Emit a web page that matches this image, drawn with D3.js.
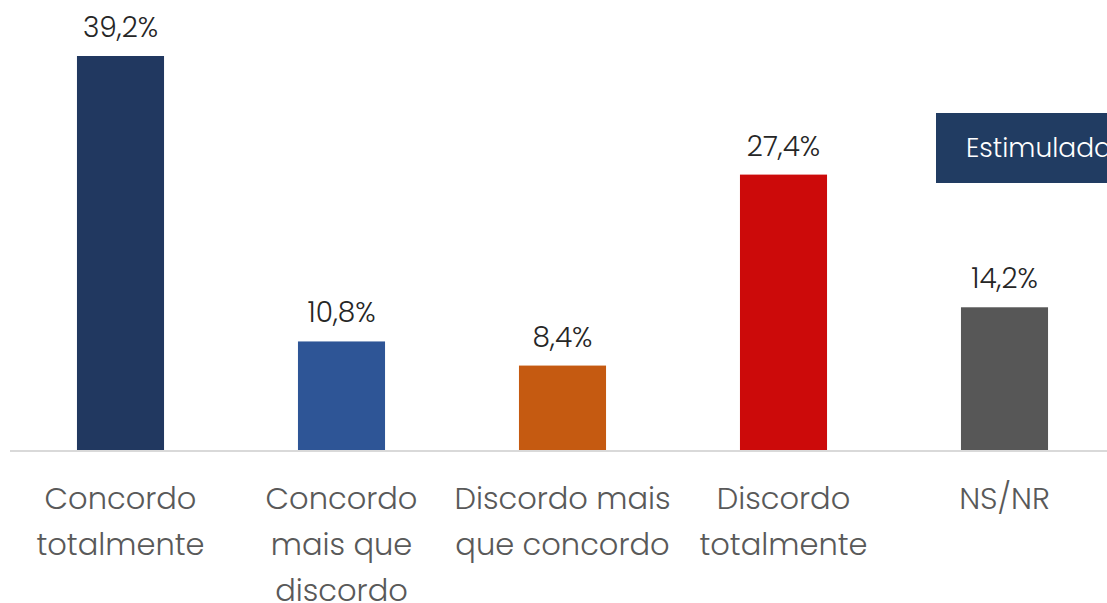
<!DOCTYPE html>
<html>
<head>
<meta charset="utf-8">
<script src="https://cdn.jsdelivr.net/npm/d3@7"></script>
<style>
  html, body { margin: 0; padding: 0; background: #ffffff; }
  svg { display: block; }
  text { font-family: Poppins, "Open Sans", Lato, sans-serif; font-weight: 300; }
</style>
</head>
<body>
<svg id="chart" width="1107" height="603"></svg>
<script>
// Response categories (each split into display lines)
const categories = [
  ["Concordo", "totalmente"],
  ["Concordo", "mais que", "discordo"],
  ["Discordo mais", "que concordo"],
  ["Discordo", "totalmente"],
  ["NS/NR"]
];
// Share of respondents, %
const values = [39.2, 10.8, 8.4, 27.4, 14.2];
const colors = ["#213860", "#2e5596", "#c55a11", "#cc0a0a", "#575757"];
const tagLabel = "Estimulada";

const W = 1107, H = 603;
const svg = d3.select("#chart");

const x = d3.scaleBand()
  .domain(d3.range(values.length))
  .range([10, 1115])
  .paddingInner(0.606)
  .paddingOuter(0.303);

const y = d3.scaleLinear().domain([0, 39.2]).range([450, 56]);

// Bars
svg.append("g").selectAll("rect")
  .data(values)
  .join("rect")
  .attr("x", (d, i) => x(i))
  .attr("width", x.bandwidth())
  .attr("y", d => y(d))
  .attr("height", d => y(0) - y(d))
  .attr("fill", (d, i) => colors[i]);

// Value labels
svg.append("g").selectAll("text")
  .data(values)
  .join("text")
  .attr("x", (d, i) => x(i) + x.bandwidth() / 2)
  .attr("y", d => y(d) - 19)
  .attr("text-anchor", "middle")
  .attr("font-size", 28)
  .attr("fill", "#262626")
  .text(d => d.toFixed(1).replace(".", ",") + "%");

// Baseline
svg.append("line")
  .attr("x1", 10).attr("x2", W)
  .attr("y1", 451).attr("y2", 451)
  .attr("stroke", "#d9d9d9")
  .attr("stroke-width", 2);

// Category labels
const cat = svg.append("g").selectAll("text")
  .data(categories)
  .join("text")
  .attr("x", (d, i) => x(i) + x.bandwidth() / 2)
  .attr("y", 509)
  .attr("text-anchor", "middle")
  .attr("font-size", 30.5)
  .attr("fill", "#595959");
cat.selectAll("tspan")
  .data(d => d)
  .join("tspan")
  .attr("x", function () { return d3.select(this.parentNode).attr("x"); })
  .attr("dy", (d, i) => i === 0 ? 0 : 46)
  .text(d => d);

// Tag box
svg.append("rect")
  .attr("x", 936).attr("y", 113)
  .attr("width", 200).attr("height", 70)
  .attr("fill", "#213c62");
svg.append("text")
  .attr("x", 966).attr("y", 157)
  .attr("font-size", 26.5)
  .attr("fill", "#ffffff")
  .text(tagLabel);
</script>
</body>
</html>
